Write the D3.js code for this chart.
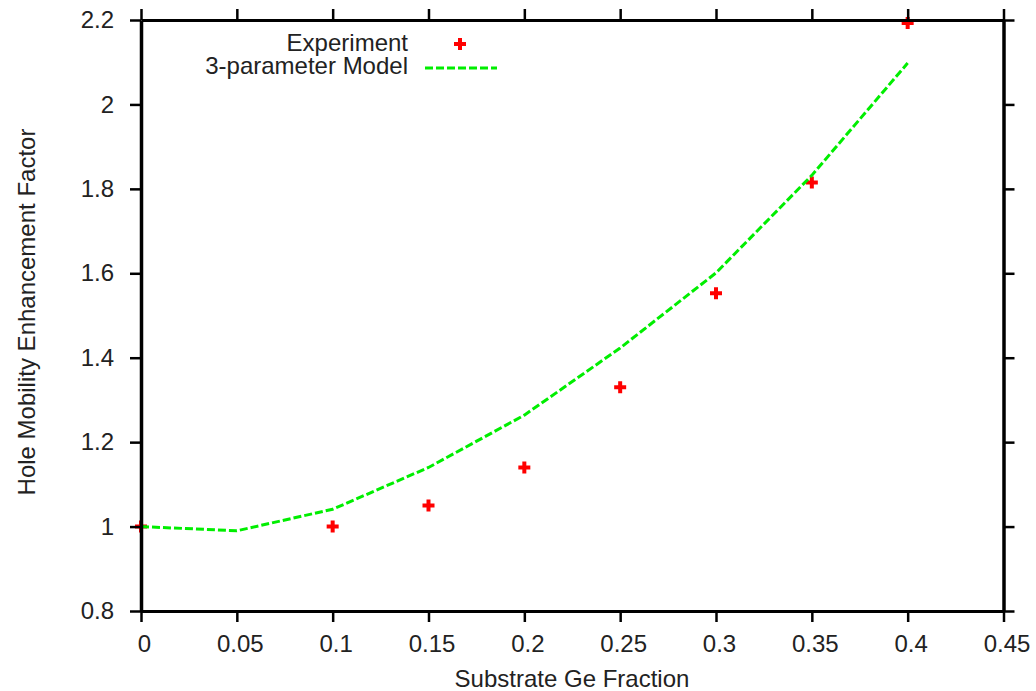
<!DOCTYPE html>
<html>
<head>
<meta charset="utf-8">
<script src="https://cdn.jsdelivr.net/npm/d3@7"></script>
<style>
  html, body { margin: 0; padding: 0; background: #fff; }
  svg { display: block; }
  text { font-family: "Liberation Sans", Arial, Helvetica, sans-serif; fill: #222; }
</style>
</head>
<body>
<svg id="chart" width="1036" height="691"></svg>
<script>
// Ge fraction in the SiGe substrate
const geFraction = [0, 0.1, 0.15, 0.2, 0.25, 0.3, 0.35, 0.4];
// Measured hole mobility enhancement
const experiment = [1.0, 1.0, 1.05, 1.14, 1.33, 1.553, 1.815, 2.193];

// Model curve samples
const modelX = [0, 0.05, 0.1, 0.15, 0.2, 0.25, 0.3, 0.35, 0.4];
const modelY = [1.0, 0.99, 1.041, 1.14, 1.264, 1.423, 1.601, 1.832, 2.098];

const xTickValues = [0, 0.05, 0.1, 0.15, 0.2, 0.25, 0.3, 0.35, 0.4, 0.45];
const xTickLabels = ["0", "0.05", "0.1", "0.15", "0.2", "0.25", "0.3", "0.35", "0.4", "0.45"];
const yTickValues = [0.8, 1.0, 1.2, 1.4, 1.6, 1.8, 2.0, 2.2];
const yTickLabels = ["0.8", "1", "1.2", "1.4", "1.6", "1.8", "2", "2.2"];

const seriesNames = ["Experiment", "3-parameter Model"];

const svg = d3.select("#chart");
const plotLeft = 141, plotRight = 1003.5, plotTop = 20, plotBottom = 611;

const x = d3.scaleLinear().domain([0, 0.45]).range([plotLeft, plotRight]);
const y = d3.scaleLinear().domain([0.8, 2.2]).range([plotBottom, plotTop]);

const red = "#ff0000";
const green = "#00ee00";
const crossPath = d3.symbol(d3.symbolCross, 80)();

// Experimental points
svg.append("g")
  .selectAll("path")
  .data(geFraction.map((g, i) => [g, experiment[i]]))
  .join("path")
  .attr("d", crossPath)
  .attr("transform", d => `translate(${x(d[0])},${y(d[1])})`)
  .attr("fill", red);

// Model curve
const line = d3.line().x(d => x(d[0])).y(d => y(d[1]));
svg.append("path")
  .datum(modelX.map((v, i) => [v, modelY[i]]))
  .attr("d", line)
  .attr("fill", "none")
  .attr("stroke", green)
  .attr("stroke-width", 3)
  .attr("stroke-dasharray", "8,3");

// Frame with outward ticks on all four sides
const tickLen = 11;
const styleAxis = (g, width) => {
  g.select(".domain").attr("stroke", "#000").attr("stroke-width", width);
  g.selectAll(".tick line").attr("stroke", "#000").attr("stroke-width", 2.5);
  g.selectAll("text").attr("font-size", 24).attr("fill", "#222");
};

svg.append("g")
  .attr("transform", `translate(0,${plotBottom})`)
  .call(d3.axisBottom(x).tickValues(xTickValues)
    .tickFormat((d, i) => xTickLabels[i]).tickSize(tickLen).tickSizeOuter(0))
  .call(g => styleAxis(g, 3))
  .call(g => g.selectAll("text").attr("y", 41).attr("dy", 0).attr("x", 3));

svg.append("g")
  .attr("transform", `translate(0,${plotTop})`)
  .call(d3.axisTop(x).tickValues(xTickValues).tickFormat("").tickSize(tickLen).tickSizeOuter(0))
  .call(g => styleAxis(g, 3));

svg.append("g")
  .attr("transform", `translate(${plotLeft},0)`)
  .call(d3.axisLeft(y).tickValues(yTickValues)
    .tickFormat((d, i) => yTickLabels[i]).tickSize(tickLen).tickPadding(16).tickSizeOuter(0))
  .call(g => styleAxis(g, 3.5));

svg.append("g")
  .attr("transform", `translate(${plotRight},0)`)
  .call(d3.axisRight(y).tickValues(yTickValues).tickFormat("").tickSize(tickLen).tickSizeOuter(0))
  .call(g => styleAxis(g, 3.5));

// Axis titles
svg.append("text")
  .attr("x", 572).attr("y", 687)
  .attr("text-anchor", "middle")
  .attr("font-size", 24)
  .text("Substrate Ge Fraction");

svg.append("text")
  .attr("transform", "translate(35,312) rotate(-90)")
  .attr("text-anchor", "middle")
  .attr("font-size", 24)
  .text("Hole Mobility Enhancement Factor");

// Key
const key = svg.append("g");
key.append("text")
  .attr("x", 408).attr("y", 51)
  .attr("text-anchor", "end").attr("font-size", 24)
  .text(seriesNames[0]);
key.append("path")
  .attr("d", crossPath)
  .attr("transform", "translate(460,44)")
  .attr("fill", red);
key.append("text")
  .attr("x", 408).attr("y", 74)
  .attr("text-anchor", "end").attr("font-size", 24)
  .text(seriesNames[1]);
key.append("line")
  .attr("x1", 425).attr("x2", 497).attr("y1", 68).attr("y2", 68)
  .attr("stroke", green).attr("stroke-width", 3)
  .attr("stroke-dasharray", "8,3");
</script>
</body>
</html>
